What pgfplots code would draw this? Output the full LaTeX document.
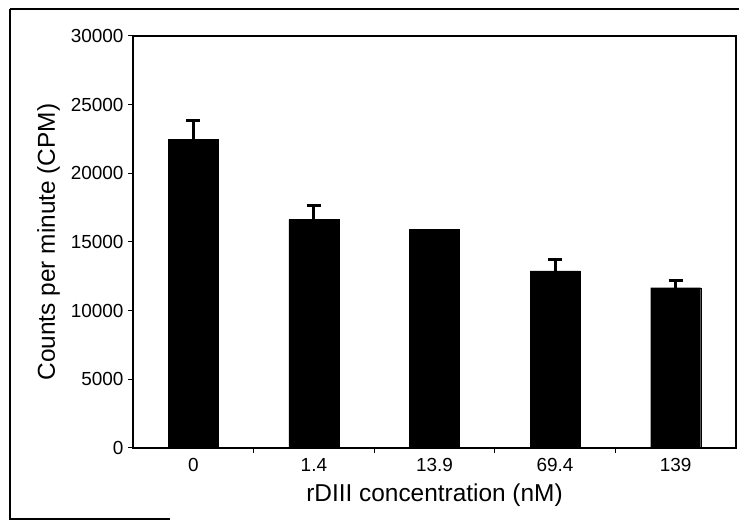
\documentclass[border=0pt]{standalone}
\usepackage{fontspec}
\setmainfont{Liberation Sans}
\usepackage{pgfplots}
\pgfplotsset{compat=1.18}

\begin{document}
\begin{tikzpicture}[x=1bp,y=1bp]
\useasboundingbox (0,0) rectangle (739,529);
% outer frame of the scanned figure
\draw[line width=1.6bp] (10,520) -- (10,10) -- (170,10);
\draw[line width=1.6bp] (10,520) -- (739,520);
\begin{axis}[
    at={(133bp,81bp)}, anchor=south west,
    width=603bp, height=412bp,
    scale only axis,
    xmin=-0.5, xmax=4.5,
    ymin=0, ymax=30000,
    ytick={0,5000,...,30000},
    scaled y ticks=false,
    yticklabel style={/pgf/number format/fixed, /pgf/number format/1000 sep={}},
    /pgf/number format/assume math mode=true,
    xtick={0,1,2,3,4},
    xticklabels={0,1.4,13.9,69.4,139},
    extra x ticks={0.5,1.5,2.5,3.5},
    extra x tick labels={},
    major tick length=5bp,
    tick align=outside,
    xtick style={draw=none},
    extra x tick style={xtick style={draw=black}},
    ytick pos=left, xtick pos=bottom,
    axis line style={line width=1.5bp},
    tick style={line width=1bp, black},
    ticklabel style={font=\fontsize{19}{21}\selectfont},
    xticklabel style={yshift=-2bp},
    yticklabel style={xshift=-1bp},
    ylabel={Counts per minute (CPM)},
    xlabel={rDIII concentration (nM)},
    label style={font=\fontsize{24.5}{26}\selectfont},
    ylabel style={yshift=4bp},
    xlabel style={yshift=5bp},
]
\addplot[ybar, bar width=50bp, fill=black, draw=black]
coordinates {
    (0,22480) (1,16650) (2,15920) (3,12890) (4,11670)
};
\addplot[draw=none, mark=none,
    error bars/.cd, y dir=plus, y explicit,
    error bar style={line width=3bp, draw=black},
    error mark options={rotate=90, mark size=7bp, line width=3bp, draw=black}]
coordinates {
    (0,22480) +- (0,1400)
    (1,16650) +- (0,1040)
    (3,12890) +- (0,800)
    (4,11670) +- (0,510)
};
\end{axis}
\end{tikzpicture}
\end{document}
